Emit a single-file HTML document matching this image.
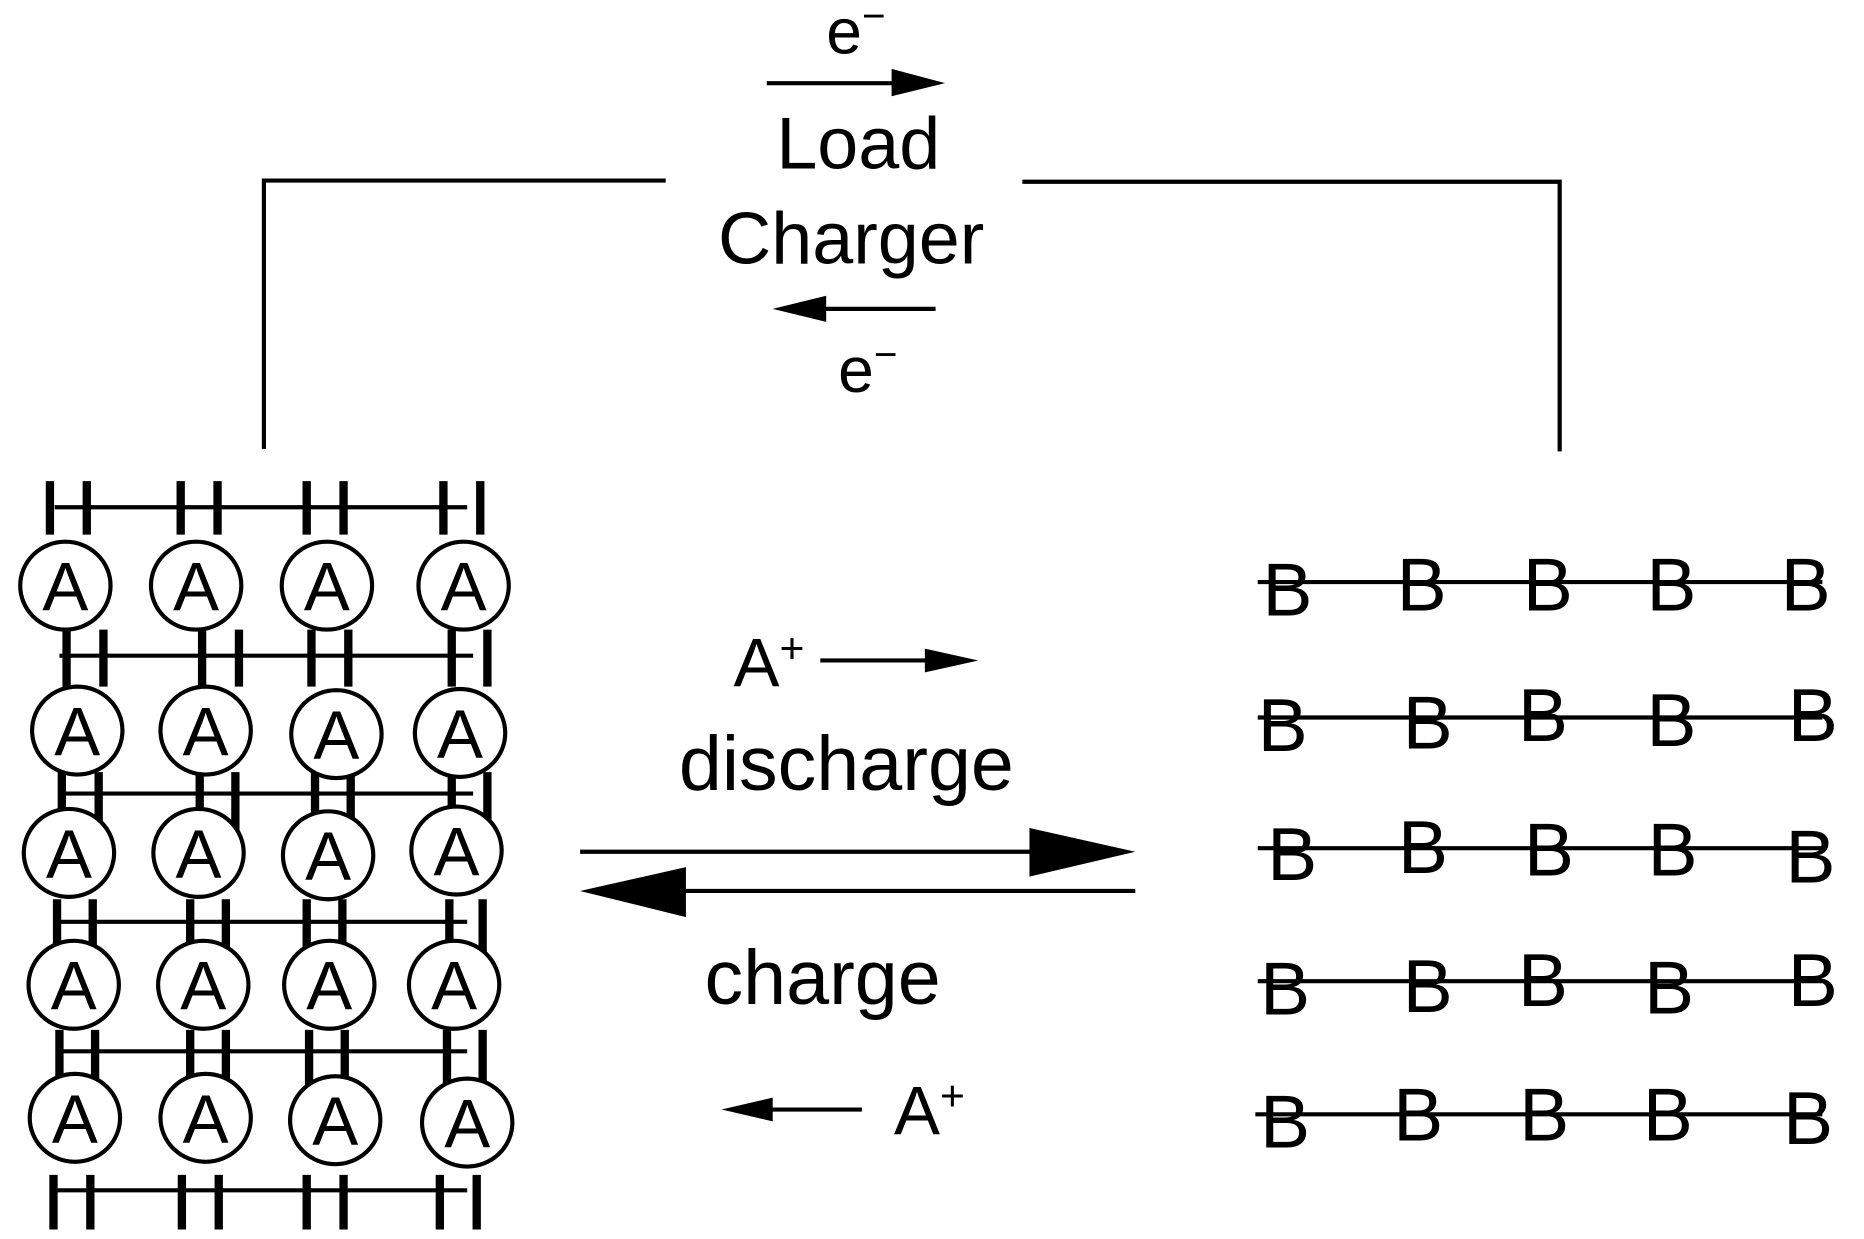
<!DOCTYPE html>
<html><head><meta charset="utf-8"><style>
html,body{margin:0;padding:0;background:#fff;}
svg{display:block;}
text{font-family:"Liberation Sans",sans-serif;fill:#000;}
</style></head><body>
<svg width="1864" height="1239" viewBox="0 0 1568 1043" preserveAspectRatio="none" xmlns="http://www.w3.org/2000/svg">
<g stroke="#000" stroke-width="3.5" fill="none">
<polyline points="222,378 222,152 560,152"/>
<polyline points="860,153 1312,153 1312,380"/>
<line x1="645" y1="70" x2="755" y2="70"/>
<line x1="690" y1="260" x2="787" y2="260"/>
<line x1="690" y1="556" x2="785" y2="556"/>
<line x1="645" y1="934" x2="725" y2="934"/>
<line x1="488" y1="717" x2="870" y2="717"/>
<line x1="570" y1="750" x2="955" y2="750"/>
</g>
<g fill="#000">
<polygon points="750,58 795,70 750,81"/>
<polygon points="650,260 695,249 695,271"/>
<polygon points="778,546 823,556 778,566"/>
<polygon points="607,934 650,924 650,944"/>
<polygon points="866,697 955,717 866,738"/>
<polygon points="488,750 577,730 577,772"/>
</g>
<text x="720" y="45" font-size="54" text-anchor="middle">e<tspan font-size="34" dy="-20">−</tspan></text>
<text x="722" y="142" font-size="62" text-anchor="middle">Load</text>
<text x="716" y="222" font-size="62" text-anchor="middle">Charger</text>
<text x="730" y="330" font-size="54" text-anchor="middle">e<tspan font-size="34" dy="-20">−</tspan></text>
<text x="617" y="578" font-size="58">A<tspan font-size="36" dy="-20">+</tspan></text>
<text x="712" y="665" font-size="65" text-anchor="middle">discharge</text>
<text x="692" y="845" font-size="65" text-anchor="middle">charge</text>
<text x="752" y="955" font-size="58">A<tspan font-size="36" dy="-20">+</tspan></text>

<g stroke="#000">
<g stroke-width="3.5">
<line x1="46" y1="427" x2="393" y2="427"/>
<line x1="50" y1="552" x2="398" y2="552"/>
<line x1="50" y1="668" x2="398" y2="668"/>
<line x1="48" y1="776" x2="393" y2="776"/>
<line x1="48" y1="885" x2="393" y2="885"/>
<line x1="46" y1="1002" x2="393" y2="1002"/>
</g>
<g stroke-width="7">
<path d="M42,405V450M73,405V450M152,405V450M183,405V450M258,405V450M289,405V450M373,405V450M404,405V450"/>
<path d="M56,530V578M87,530V578M170,530V578M201,530V578M262,530V578M293,530V578M380,530V578M410,530V578"/>
<path d="M52,650V699M83,650V699M168,650V699M198,650V699M265,650V699M295,650V699M380,650V699M410,650V699"/>
<path d="M48,757V806M78,757V806M160,757V806M190,757V806M258,757V806M288,757V806M378,757V806M406,757V806"/>
<path d="M50,867V913M80,867V913M160,867V913M190,867V913M260,867V913M290,867V913M376,867V913M406,867V913"/>
<path d="M45,989V1035M76,989V1035M153,989V1035M184,989V1035M258,989V1035M289,989V1035M370,989V1035M401,989V1035"/>
</g>
</g>
<g stroke="#000" stroke-width="3.5" fill="#fff">
<ellipse cx="55" cy="493" rx="38" ry="37"/><ellipse cx="165" cy="493" rx="38" ry="37"/><ellipse cx="275" cy="493" rx="38" ry="37"/><ellipse cx="390" cy="493" rx="38" ry="37"/>
<ellipse cx="65" cy="615" rx="38" ry="37"/><ellipse cx="173" cy="615" rx="38" ry="37"/><ellipse cx="283" cy="618" rx="38" ry="37"/><ellipse cx="387" cy="617" rx="38" ry="37"/>
<ellipse cx="58" cy="718" rx="38" ry="37"/><ellipse cx="167" cy="718" rx="38" ry="37"/><ellipse cx="276" cy="720" rx="38" ry="37"/><ellipse cx="384" cy="716" rx="38" ry="37"/>
<ellipse cx="62" cy="829" rx="38" ry="37"/><ellipse cx="171" cy="829" rx="38" ry="37"/><ellipse cx="277" cy="829" rx="38" ry="37"/><ellipse cx="382" cy="829" rx="38" ry="37"/>
<ellipse cx="63" cy="941" rx="38" ry="37"/><ellipse cx="173" cy="941" rx="38" ry="37"/><ellipse cx="282" cy="943" rx="38" ry="37"/><ellipse cx="393" cy="945" rx="38" ry="37"/>
</g>
<g font-size="58" text-anchor="middle">
<text x="55" y="514">A</text><text x="165" y="514">A</text><text x="275" y="514">A</text><text x="390" y="514">A</text>
<text x="65" y="636">A</text><text x="173" y="636">A</text><text x="283" y="639">A</text><text x="387" y="638">A</text>
<text x="58" y="739">A</text><text x="167" y="739">A</text><text x="276" y="741">A</text><text x="384" y="737">A</text>
<text x="62" y="850">A</text><text x="171" y="850">A</text><text x="277" y="850">A</text><text x="382" y="850">A</text>
<text x="63" y="962">A</text><text x="173" y="962">A</text><text x="282" y="964">A</text><text x="393" y="966">A</text>
</g>

<g stroke="#000" stroke-width="3.5">
<line x1="1058" y1="490" x2="1533" y2="490"/>
<line x1="1058" y1="604" x2="1533" y2="604"/>
<line x1="1058" y1="714" x2="1533" y2="714"/>
<line x1="1058" y1="826" x2="1533" y2="826"/>
<line x1="1056" y1="938" x2="1533" y2="938"/>
</g>
<g font-size="63">
<text x="1062" y="518">B</text><text x="1175" y="514">B</text><text x="1281" y="514">B</text><text x="1385" y="514">B</text><text x="1498" y="514">B</text>
<text x="1058" y="632">B</text><text x="1180" y="630">B</text><text x="1277" y="624">B</text><text x="1385" y="628">B</text><text x="1504" y="624">B</text>
<text x="1066" y="741">B</text><text x="1176" y="735">B</text><text x="1282" y="737">B</text><text x="1386" y="737">B</text><text x="1502" y="743">B</text>
<text x="1060" y="854">B</text><text x="1180" y="852">B</text><text x="1277" y="847">B</text><text x="1383" y="853">B</text><text x="1504" y="847">B</text>
<text x="1060" y="966">B</text><text x="1172" y="960">B</text><text x="1278" y="960">B</text><text x="1382" y="960">B</text><text x="1500" y="963">B</text>
</g>
</svg>
</body></html>
